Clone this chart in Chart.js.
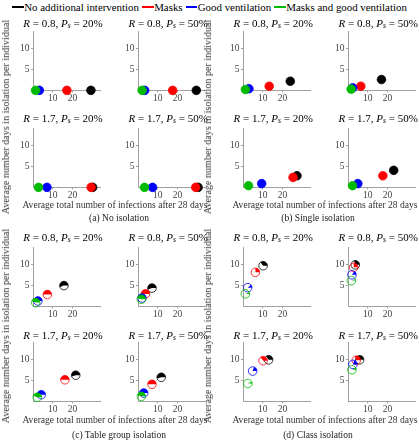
<!DOCTYPE html>
<html><head><meta charset="utf-8">
<script src="https://cdn.jsdelivr.net/npm/chart.js@4"></script>
<style>
html,body{margin:0;padding:0;background:#fff;}
body{width:419px;height:440px;position:relative;overflow:hidden;font-family:"Liberation Serif","DejaVu Serif",serif;color:#000;}
.abs{position:absolute;white-space:nowrap;line-height:1;}
.ctr{transform:translate(-50%,-50%);}
.rot{transform:translate(-50%,-50%) rotate(-90deg);}
.seg{display:inline-block;width:11.7px;height:0;border-top-width:2px;border-top-style:solid;vertical-align:middle;margin-right:0.5px;position:relative;top:-1px;}
.item{margin-left:3px;}
.item:first-child{margin-left:0;}
sub{font-size:70%;vertical-align:-0.25em;line-height:0;}
</style></head><body>
<script>
const seriesNames = ["No additional intervention","Masks","Good ventilation","Masks and good ventilation"];
const seriesColors = ["#000000","#ff0000","#0000ff","#00bb00"];
const panelR = ["0.8","0.8","1.7","1.7"];
const panelPs = ["20%","50%","20%","50%"];
const groupCaptions = ["(a) No isolation","(b) Single isolation","(c) Table group isolation","(d) Class isolation"];
const xTickValues = [10,20];
const yTickValues = [5,10];
const xAxisTitle = "Average total number of infections after 28 days";
const yAxisTitle = "Average number days in isolation per individual";

// [panel][series: none, masks, ventilation, masks+ventilation]
const noIsoInfections = [[29.4,17.2,3.2,1.3],[29.6,17.6,3.4,2.1],[30.3,29.5,7.1,2.8],[30.5,29.3,7.4,3.3]];
const noIsoDays = [[0,0,0,0],[0,0,0,0],[0,0,0,0],[0,0,0,0]];
const noIsoFilled = [[1,1,1,1],[1,1,1,1],[1,1,1,1],[1,1,1,1]];

const singleInfections = [[24,13.3,3.0,1.2],[17,6.5,2.4,1.6],[27.4,25.4,9.5,2.8],[23.2,17.7,5.0,2.3]];
const singleDays = [[2.2,1.0,0.4,0.2],[2.6,1.0,0.6,0.3],[2.8,2.4,0.9,0.4],[4.1,2.8,0.9,0.4]];
const singleFilled = [[1,1,1,1],[1,1,1,1],[1,1,1,1],[1,1,1,1]];

const tableInfections = [[15.7,7.3,2.5,1.4],[7.1,3.8,2.0,1.7],[21.7,16.2,4.2,2.2],[11.8,7.1,2.9,1.7]];
const tableDays = [[5.0,2.85,1.3,0.9],[4.4,3.0,2.0,1.7],[6.3,5.2,1.6,1.0],[5.8,4.1,2.0,1.2]];
const tableFilled = [[0.55,0.5,0.5,0.45],[0.55,0.5,0.5,0.45],[0.55,0.5,0.5,0.45],[0.55,0.5,0.5,0.45]];

const classInfections = [[10.2,6.3,2.4,1.2],[3.7,2.9,2.0,1.7],[13.0,10.2,4.9,2.5],[5.9,4.2,2.5,2.0]];
const classDays = [[9.8,8.2,4.5,3.0],[10.0,9.4,7.6,6.2],[10.0,9.8,7.3,4.3],[10.0,9.9,8.9,7.6]];
const classFilled = [[0.35,0.25,0.12,0.06],[0.3,0.25,0.15,0.05],[0.35,0.35,0.2,0.08],[0.3,0.3,0.2,0.08]];

const groups = [
  {x:noIsoInfections, y:noIsoDays, f:noIsoFilled},
  {x:singleInfections, y:singleDays, f:singleFilled},
  {x:tableInfections, y:tableDays, f:tableFilled},
  {x:classInfections, y:classDays, f:classFilled}
];

// layout (pixels)
const colX = [32.5, 137.7, 242.7, 347.7];
const rowY = [90, 187, 306, 401];
const titleY = [23, 118, 237, 335];
const X_MAX = 34.5, Y_MAX = 14.3;
const PX_X = 1.97, PX_Y = 4.15;
const FONT = '"Liberation Serif","DejaVu Serif",serif';

function addText(html, cls, left, top, size, color){
  const d = document.createElement('div');
  d.className = 'abs ' + cls;
  d.innerHTML = html;
  d.style.left = left + 'px'; d.style.top = top + 'px';
  d.style.fontSize = size + 'px';
  if (color) d.style.color = color;
  document.body.appendChild(d);
  return d;
}
function fitWidth(el, target){
  const w = el.offsetWidth;
  const s = parseFloat(el.style.fontSize);
  if (w > 0) el.style.fontSize = (s * target / w).toFixed(2) + 'px';
}

// legend
const leg = document.createElement('div');
leg.className = 'abs';
leg.style.left = '12px'; leg.style.top = '1.5px'; leg.style.fontSize = '11px';
leg.innerHTML = seriesNames.map((n,i)=>'<span class="item"><span class="seg" style="border-top-color:'+seriesColors[i]+'"></span>'+n+'</span>').join('');
document.body.appendChild(leg);
fitWidth(leg, 395);

const pieMarkers = {
  id:'pieMarkers',
  afterDatasetsDraw(chart){
    const ctx = chart.ctx;
    const r = 4.3;
    chart.data.datasets.forEach((ds, i) => {
      const meta = chart.getDatasetMeta(i);
      meta.data.forEach((pt, j) => {
        const f = ds.data[j].f;
        const x = pt.x, y = pt.y;
        ctx.save();
        ctx.fillStyle = ds.markerColor;
        ctx.strokeStyle = ds.markerColor;
        if (f >= 0.999) {
          ctx.beginPath(); ctx.arc(x, y, r, 0, Math.PI*2); ctx.fill();
        } else if (f > 0) {
          ctx.beginPath(); ctx.moveTo(x, y);
          ctx.arc(x, y, r, 0, -f*Math.PI*2, true);
          ctx.closePath(); ctx.fill();
        }
        ctx.beginPath(); ctx.arc(x, y, r, 0, Math.PI*2);
        ctx.lineWidth = 0.8; ctx.stroke();
        ctx.restore();
      });
    });
  }
};

const padL = 24, padT = 12, padR = 12, padB = 16;
const plotW = X_MAX*PX_X, plotH = Y_MAX*PX_Y;
const xTitles = [];
const caps = [];

groups.forEach((grp, g) => {
  for (let p = 0; p < 4; p++) {
    const col = (g%2)*2 + (p%2);
    const row = Math.floor(g/2)*2 + Math.floor(p/2);
    const X0 = colX[col], Y0 = rowY[row];
    const W = Math.round(padL + plotW + padR), H = Math.round(padT + plotH + padB);
    const left = X0 - padL, top = Y0 - plotH - padT;
    const cv = document.createElement('canvas');
    cv.width = W; cv.height = H;
    cv.style.position = 'absolute';
    cv.style.left = left + 'px'; cv.style.top = top + 'px';
    cv.style.width = W + 'px'; cv.style.height = H + 'px';
    document.body.appendChild(cv);
    const rightPad = W - padL - plotW;
    const bottomPad = H - padT - plotH;
    const datasets = seriesNames.map((n, s) => ({
      label: n,
      markerColor: seriesColors[s],
      data: [{x: grp.x[p][s], y: grp.y[p][s], f: grp.f[p][s]}],
      pointRadius: 0, pointHoverRadius: 0, showLine: false
    }));
    new Chart(cv, {
      type: 'scatter',
      data: {datasets},
      options: {
        responsive: false, animation: false, devicePixelRatio: 1,
        events: [],
        layout: {padding: {left: 0, top: padT, right: rightPad, bottom: 0}},
        plugins: {legend: {display: false}, tooltip: {enabled: false}, title: {display: false}},
        scales: {
          x: {
            type: 'linear', min: 0, max: X_MAX,
            afterFit(s){ s.height = bottomPad; },
            afterBuildTicks(s){ s.ticks = xTickValues.map(v => ({value: v})); },
            grid: {display: true, drawOnChartArea: false, drawTicks: true, tickLength: 2, color: '#a0a0a0', lineWidth: 1},
            border: {display: true, color: '#a0a0a0', width: 1},
            ticks: {font: {family: FONT, size: 9.5}, color: '#444', padding: 0, maxRotation: 0, autoSkip: false}
          },
          y: {
            type: 'linear', min: 0, max: Y_MAX,
            afterFit(s){ s.width = padL; },
            afterBuildTicks(s){ s.ticks = yTickValues.map(v => ({value: v})); },
            grid: {display: true, drawOnChartArea: false, drawTicks: true, tickLength: 2, color: '#a0a0a0', lineWidth: 1},
            border: {display: true, color: '#a0a0a0', width: 1},
            ticks: {font: {family: FONT, size: 9.5}, color: '#444', padding: 1.5, autoSkip: false}
          }
        }
      },
      plugins: [pieMarkers]
    });
    const t = addText('<i>R</i> = ' + panelR[p] + ', <i>P</i><sub><i>s</i></sub> = ' + panelPs[p], 'ctr', X0 + 30.5, titleY[row], 11);
    fitWidth(t, 79);
  }
  const gx = (g%2);
  const gy = Math.floor(g/2);
  const yl = addText(yAxisTitle, 'rot', gx ? 208 : 6, gy ? 326 : 117, 10, '#333');
  fitWidth(yl, 195);
  const xt = addText(xAxisTitle, 'ctr', gx ? 325 : 115, gy ? 420 : 205, 10, '#333');
  fitWidth(xt, 185);
  xTitles.push(xt);
  caps.push(addText(groupCaptions[g], 'ctr', gx ? 318 : 119, gy ? 434.5 : 217.5, 9, '#222'));
});
caps.forEach(e => e.style.fontSize = xTitles[0].style.fontSize);
</script>
</body></html>
